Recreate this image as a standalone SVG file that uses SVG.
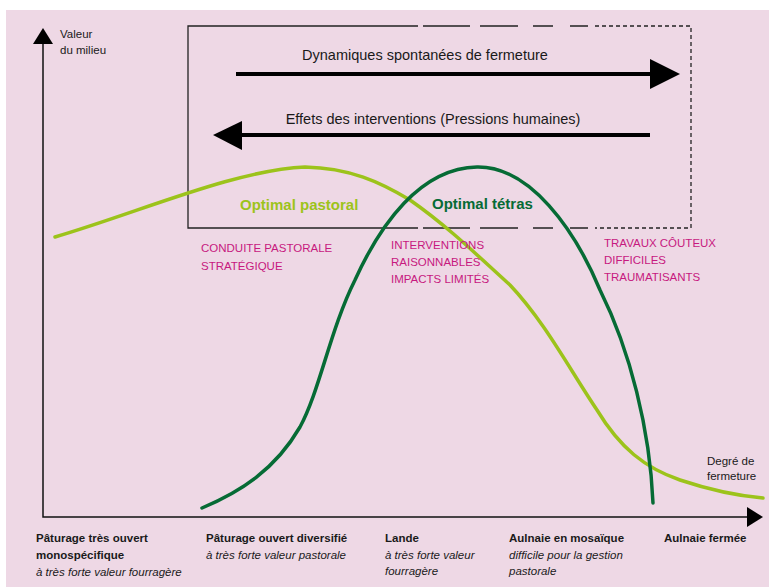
<svg xmlns="http://www.w3.org/2000/svg" width="769" height="587" viewBox="0 0 769 587">
<defs>
<style>
text{font-family:"Liberation Sans",Arial,sans-serif;}
.lbl{font-size:11.5px;fill:#1a1a1a;}
.b{font-weight:bold;}
.i{font-style:italic;}
.big{font-size:14.5px;fill:#1a1a1a;}
.pink{font-size:11.5px;fill:#C7197F;}
.box{stroke:#222;stroke-width:1.3;fill:none;}
.dash{stroke-dasharray:4 3;}
.axis{stroke:#111;stroke-width:1.5;fill:none;}
.arr{stroke:#000;stroke-width:4;fill:none;}
.curve{fill:none;stroke-width:3.5;stroke-linecap:round;stroke-linejoin:round;}
</style>
</defs>
<rect x="6" y="10" width="763" height="577" fill="#EED8E5"/>

<g id="frame-box">
<path class="box" d="M418,26 H188 V228 H418"/>
<path class="box" d="M423,26 H470 M480,26 H518 M533,26 H553 M570,26 H588 M423,228 H470 M480,228 H518 M533,228 H553 M570,228 H588"/>
<path class="box dash" d="M595,26 H691 V228 H595"/>
</g>

<g id="axes">
<path class="axis" d="M43,42 V517 H750"/>
<polygon points="43,28 33,44 53,44" fill="#000"/>
<polygon points="747,507 763,517 747,527" fill="#000"/>
<text class="lbl" x="60" y="38">Valeur</text>
<text class="lbl" x="60" y="54">du milieu</text>
<text class="lbl" x="707" y="465">Degré de</text>
<text class="lbl" x="707" y="480">fermeture</text>
</g>

<g id="connectors">
<g id="arrow-dynamiques">
<line class="arr" x1="236" y1="74" x2="652" y2="74"/>
<polygon points="650,59 680,74 650,89" fill="#000"/>
</g>
<g id="arrow-effets">
<line class="arr" x1="240" y1="135" x2="650" y2="135"/>
<polygon points="242,121 213,135 242,150" fill="#000"/>
</g>
</g>
<text class="big" x="425" y="60" text-anchor="middle">Dynamiques spontanées de fermeture</text>
<text class="big" x="433" y="124" text-anchor="middle">Effets des interventions (Pressions humaines)</text>

<g id="curve-pastoral">
<path class="curve" stroke="#9CC31B" d="M55,237 C140,212 235,170 305,167 C350,168 380,182 410,200 C450,228 480,258 510,285 C545,322 570,370 597,410 C620,448 645,468 680,480 C710,490 740,496 763,498"/>
<text x="240" y="210" font-size="15" font-weight="bold" fill="#9CC31B">Optimal pastoral</text>
</g>

<g id="curve-tetras">
<path class="curve" stroke="#066B35" d="M202,508 C240,492 275,470 300,427 C320,390 330,330 355,280 C380,225 420,168 477,167 C530,166 575,230 600,290 C630,350 650,430 653,503"/>
<text x="432" y="209" font-size="15" font-weight="bold" fill="#066B35">Optimal tétras</text>
</g>

<g id="zone-conduite">
<text class="pink" x="201" y="252">CONDUITE PASTORALE</text>
<text class="pink" x="201" y="270">STRATÉGIQUE</text>
</g>
<g id="zone-interventions">
<text class="pink" x="391" y="249">INTERVENTIONS</text>
<text class="pink" x="391" y="266">RAISONNABLES</text>
<text class="pink" x="391" y="283">IMPACTS LIMITÉS</text>
</g>
<g id="zone-travaux">
<text class="pink" x="604" y="247">TRAVAUX CÔUTEUX</text>
<text class="pink" x="604" y="264">DIFFICILES</text>
<text class="pink" x="604" y="281">TRAUMATISANTS</text>
</g>

<g id="stage-1">
<text class="lbl b" x="36" y="542">Pâturage très ouvert</text>
<text class="lbl b" x="36" y="559">monospécifique</text>
<text class="lbl i" x="36" y="576">à très forte valeur fourragère</text>
</g>
<g id="stage-2">
<text class="lbl b" x="206" y="542">Pâturage ouvert diversifié</text>
<text class="lbl i" x="206" y="559">à très forte valeur pastorale</text>
</g>
<g id="stage-3">
<text class="lbl b" x="385" y="542">Lande</text>
<text class="lbl i" x="385" y="559">à très forte valeur</text>
<text class="lbl i" x="385" y="575">fourragère</text>
</g>
<g id="stage-4">
<text class="lbl b" x="509" y="542">Aulnaie en mosaïque</text>
<text class="lbl i" x="509" y="559">difficile pour la gestion</text>
<text class="lbl i" x="509" y="575">pastorale</text>
</g>
<g id="stage-5">
<text class="lbl b" x="664" y="542">Aulnaie fermée</text>
</g>
</svg>
